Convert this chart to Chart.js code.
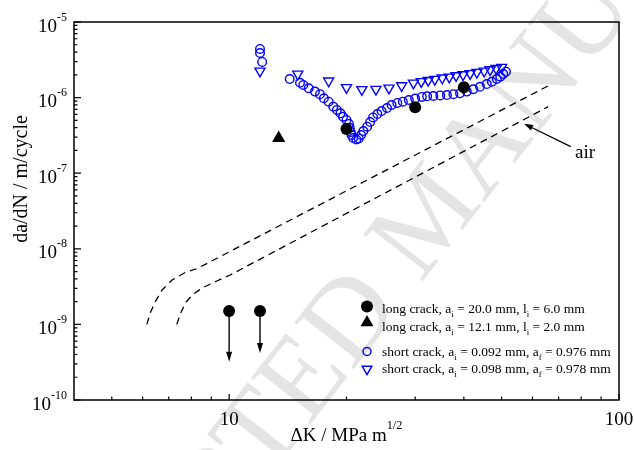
<!DOCTYPE html>
<html>
<head>
<meta charset="utf-8">
<script src="https://cdn.jsdelivr.net/npm/chart.js@4.4.1/dist/chart.umd.min.js"></script>
<style>
  html, body { margin: 0; padding: 0; background: #fff; }
  #wrap { width: 634px; height: 450px; position: relative; }
</style>
</head>
<body>
<div id="wrap"><canvas id="fcgChart"></canvas></div>
<script>
// long crack, ai = 20.0 mm (last two points are run-outs)
const longA_dK   = [20.0, 30.0, 40.0, 10.0, 12.0];
const longA_dadN = [3.85e-7, 7.45e-7, 1.37e-6, 1.5e-9, 1.5e-9];
// run-out arrows: index into longA and the rate the arrow points down to
const runoutIdx = [3, 4];
const runoutTo  = [3.2e-10, 4.2e-10];

// long crack, ai = 12.1 mm
const longB_dK   = [13.4];
const longB_dadN = [2.9e-7];

// short crack, ai = 0.092 mm
const shortA_dK = [12.0, 12.0, 12.15, 14.3, 15.2, 15.5, 16.0, 16.6, 17.1, 17.5, 18.0, 18.5, 18.9,
  19.3, 19.6, 20.0, 20.3, 20.4, 20.5, 20.6, 20.8, 21.2, 21.5, 21.8, 22.1, 22.6, 23.0, 23.4, 24.0,
  24.6, 25.4, 26.1, 27.0, 27.9, 28.9, 30.0, 31.2, 32.2, 33.4, 34.8, 36.2, 37.6, 39.1, 40.7, 42.3,
  44.0, 45.8, 47.2, 48.6, 49.6, 50.5, 51.3];
const shortA_dadN = [4.40e-6, 3.89e-6, 2.96e-6, 1.76e-6, 1.57e-6, 1.47e-6, 1.33e-6, 1.20e-6, 1.11e-6,
  9.8e-7, 8.83e-7, 7.59e-7, 6.86e-7, 6.20e-7, 5.58e-7, 5.06e-7, 4.48e-7, 3.96e-7, 3.51e-7, 3.20e-7,
  2.92e-7, 2.79e-7, 2.88e-7, 3.20e-7, 3.61e-7, 4.12e-7, 4.75e-7, 5.46e-7, 6.07e-7, 6.65e-7, 7.28e-7,
  7.98e-7, 8.49e-7, 8.83e-7, 9.29e-7, 9.73e-7, 1.02e-6, 1.04e-6, 1.05e-6, 1.07e-6, 1.08e-6, 1.11e-6,
  1.14e-6, 1.20e-6, 1.29e-6, 1.39e-6, 1.51e-6, 1.62e-6, 1.76e-6, 1.89e-6, 2.05e-6, 2.20e-6];

// short crack, ai = 0.098 mm
const shortB_dK = [12.0, 15.0, 18.0, 20.0, 21.9, 23.8, 25.7, 27.7, 29.7, 31.1, 32.4, 33.7, 35.2,
  36.7, 38.2, 39.8, 41.5, 43.2, 45.1, 46.7, 48.4, 50.0];
const shortB_dadN = [2.25e-6, 2.05e-6, 1.66e-6, 1.36e-6, 1.28e-6, 1.29e-6, 1.34e-6, 1.44e-6, 1.56e-6,
  1.63e-6, 1.69e-6, 1.75e-6, 1.82e-6, 1.87e-6, 1.95e-6, 2.01e-6, 2.08e-6, 2.16e-6, 2.25e-6, 2.34e-6,
  2.43e-6, 2.52e-6];

// air reference curves
const air1_dK   = [6.15, 6.29, 6.46, 6.73, 7.14, 7.71, 8.28, 66.5];
const air1_dadN = [1.0e-9, 1.46e-9, 1.98e-9, 2.85e-9, 3.86e-9, 4.86e-9, 5.48e-9, 1.47e-6];
const air2_dK   = [7.34, 7.53, 7.76, 8.09, 8.58, 9.30, 10.06, 65.8];
const air2_dadN = [1.0e-9, 1.46e-9, 1.98e-9, 2.52e-9, 3.08e-9, 3.75e-9, 4.50e-9, 7.58e-7];

// axis ticks
const xMajor = [10, 100];
const xMinor = [5, 6, 7, 8, 9, 20, 30, 40, 50, 60, 70, 80, 90];
const yExponents = [-10, -9, -8, -7, -6, -5];

// labels, as [text, 'sub' | 'sup' | ''] runs
const legendLabels = [
  [['long crack, a', ''], ['i', 'sub'], [' = 20.0 mm, l', ''], ['i', 'sub'], [' = 6.0 mm', '']],
  [['long crack, a', ''], ['i', 'sub'], [' = 12.1 mm, l', ''], ['i', 'sub'], [' = 2.0 mm', '']],
  [['short crack, a', ''], ['i', 'sub'], [' = 0.092 mm, a', ''], ['f', 'sub'], [' = 0.976 mm', '']],
  [['short crack, a', ''], ['i', 'sub'], [' = 0.098 mm, a', ''], ['f', 'sub'], [' = 0.978 mm', '']]
];
const xTitle = [['\u0394K / MPa m', ''], ['1/2', 'sup']];
const yTitle = 'da/dN / m/cycle';
const airText = 'air';
// annotation for the air curves (data units): arrow tip, arrow tail, text
const airArrow = [[57.1, 4.5e-7], [75.2, 2.25e-7]];
const airTextAt = [77.1, 1.9e-7];

const serif = '"Liberation Serif", "Times New Roman", serif';
const BLUE = '#0000ff';

function toPts(xs, ys) {
  return xs.map((x, i) => ({ x: x, y: ys[i] }));
}

// draws mixed normal/sub/sup text starting at x (baseline y), returns width
function richText(ctx, runs, x, y, size, opts) {
  opts = opts || {};
  const small = size * 0.65;
  const supRaise = opts.supRaise || size * 0.45;
  const subDrop = opts.subDrop || size * 0.28;
  let w = 0;
  runs.forEach(r => {
    ctx.font = (r[1] ? small : size) + 'px ' + serif;
    w += ctx.measureText(r[0]).width;
  });
  let cx = x;
  if (opts.align === 'center') cx = x - w / 2;
  if (opts.align === 'right') cx = x - w;
  ctx.textAlign = 'left';
  ctx.textBaseline = 'alphabetic';
  runs.forEach(r => {
    ctx.font = (r[1] ? small : size) + 'px ' + serif;
    let dy = 0;
    if (r[1] === 'sub') dy = subDrop;
    if (r[1] === 'sup') dy = -supRaise;
    ctx.fillText(r[0], cx, y + dy);
    cx += ctx.measureText(r[0]).width;
  });
  return w;
}

function drawMarker(ctx, style, x, y, r, filled, color) {
  ctx.save();
  ctx.lineWidth = 1.5;
  ctx.strokeStyle = color;
  ctx.fillStyle = color;
  ctx.beginPath();
  if (style === 'circle') {
    ctx.arc(x, y, r, 0, Math.PI * 2);
  } else {
    const dir = style === 'triangleDown' ? -1 : 1;
    for (let k = 0; k < 3; k++) {
      const ang = k * 2 * Math.PI / 3;
      ctx.lineTo(x + Math.sin(ang) * r, y - dir * Math.cos(ang) * r);
    }
    ctx.closePath();
  }
  if (filled) ctx.fill(); else ctx.stroke();
  ctx.restore();
}

function arrow(ctx, x0, y0, x1, y1, head, halfW) {
  const ang = Math.atan2(y1 - y0, x1 - x0);
  const bx = x1 - Math.cos(ang) * head, by = y1 - Math.sin(ang) * head;
  ctx.beginPath();
  ctx.moveTo(x0, y0);
  ctx.lineTo(bx, by);
  ctx.stroke();
  ctx.beginPath();
  ctx.moveTo(x1, y1);
  ctx.lineTo(bx + Math.sin(ang) * halfW, by - Math.cos(ang) * halfW);
  ctx.lineTo(bx - Math.sin(ang) * halfW, by + Math.cos(ang) * halfW);
  ctx.closePath();
  ctx.fill();
}

const frameAndText = {
  id: 'frameAndText',
  beforeDraw(chart) {
    const { ctx } = chart;
    ctx.save();
    ctx.fillStyle = '#fff';
    ctx.fillRect(0, 0, chart.width, chart.height);
    // faint diagonal stamp across the page
    ctx.font = '115px ' + serif;
    ctx.fillStyle = '#e4e4e4';
    ctx.translate(422, 220);
    ctx.rotate(-52 * Math.PI / 180);
    const lead = ctx.measureText('ACCEPTED ').width + ctx.measureText('M').width / 2;
    ctx.textAlign = 'left';
    ctx.textBaseline = 'alphabetic';
    ctx.fillText('ACCEPTED MANUSCRIPT', -lead, 115 * 0.33);
    ctx.restore();
  },
  afterDatasetsDraw(chart) {
    const { ctx, chartArea: a } = chart;
    const xs = chart.scales.x, ys = chart.scales.y;
    ctx.save();
    ctx.strokeStyle = '#000';
    ctx.fillStyle = '#000';

    // frame
    ctx.lineWidth = 1.5;
    ctx.strokeRect(a.left, a.top, a.right - a.left, a.bottom - a.top);

    // inward ticks, bottom and left only
    ctx.lineWidth = 1.2;
    ctx.beginPath();
    xMajor.forEach(v => {
      const px = xs.getPixelForValue(v);
      ctx.moveTo(px, a.bottom); ctx.lineTo(px, a.bottom - 6);
    });
    xMinor.forEach(v => {
      const px = xs.getPixelForValue(v);
      ctx.moveTo(px, a.bottom); ctx.lineTo(px, a.bottom - 3.5);
    });
    yExponents.forEach((e, i) => {
      const py = ys.getPixelForValue(Math.pow(10, e));
      ctx.moveTo(a.left, py); ctx.lineTo(a.left + 7, py);
      if (i < yExponents.length - 1) {
        for (let m = 2; m <= 9; m++) {
          const pm = ys.getPixelForValue(m * Math.pow(10, e));
          ctx.moveTo(a.left, pm); ctx.lineTo(a.left + 3.5, pm);
        }
      }
    });
    ctx.stroke();

    // y tick labels 10^n
    yExponents.forEach(e => {
      const py = ys.getPixelForValue(Math.pow(10, e));
      ctx.font = '12px ' + serif;
      const supW = ctx.measureText(String(e)).width;
      const right = a.left - 7;
      ctx.textAlign = 'right';
      ctx.textBaseline = 'alphabetic';
      ctx.fillText(String(e), right, py - 1.5);
      ctx.font = '19px ' + serif;
      ctx.fillText('10', right - supW, py + 9.5);
    });

    // x tick labels
    ctx.font = '19px ' + serif;
    ctx.textAlign = 'center';
    xMajor.forEach(v => {
      ctx.fillText(String(v), xs.getPixelForValue(v), a.bottom + 25);
    });

    // axis titles
    richText(ctx, xTitle, (a.left + a.right) / 2, a.bottom + 41, 19, { align: 'center', supRaise: 12 });
    ctx.save();
    ctx.translate(27, 179);
    ctx.rotate(-Math.PI / 2);
    ctx.font = '20px ' + serif;
    ctx.textAlign = 'center';
    ctx.fillText(yTitle, 0, 0);
    ctx.restore();

    // run-out arrows
    ctx.lineWidth = 1.4;
    runoutIdx.forEach((idx, i) => {
      const px = xs.getPixelForValue(longA_dK[idx]);
      const y0 = ys.getPixelForValue(longA_dadN[idx]);
      const y1 = ys.getPixelForValue(runoutTo[i]);
      arrow(ctx, px, y0, px, y1, 10, 3);
    });

    // air annotation
    ctx.lineWidth = 1.3;
    arrow(ctx,
      xs.getPixelForValue(airArrow[1][0]), ys.getPixelForValue(airArrow[1][1]),
      xs.getPixelForValue(airArrow[0][0]), ys.getPixelForValue(airArrow[0][1]), 9, 3);
    ctx.font = '19px ' + serif;
    ctx.textAlign = 'left';
    ctx.fillText(airText, xs.getPixelForValue(airTextAt[0]), ys.getPixelForValue(airTextAt[1]) + 6);

    // legend
    const markers = [
      ['circle', 6, true, '#000', 306.5],
      ['triangleUp', 7.5, true, '#000', 322.5],
      ['circle', 4, false, BLUE, 351.5],
      ['triangleDown', 5.5, false, BLUE, 369]
    ];
    const textBase = [313, 331, 356, 373];
    legendLabels.forEach((lab, i) => {
      const m = markers[i];
      drawMarker(ctx, m[0], a.left + 293, m[4], m[1], m[2], m[3]);
      ctx.fillStyle = '#000';
      richText(ctx, lab, a.left + 308, textBase[i], 13.5, { subDrop: 3.5 });
    });
    ctx.restore();
  }
};

new Chart(document.getElementById('fcgChart'), {
  type: 'scatter',
  data: {
    datasets: [
      {
        label: 'long crack, ai = 20.0 mm',
        data: toPts(longA_dK, longA_dadN),
        pointStyle: 'circle', pointRadius: 6,
        backgroundColor: '#000', borderColor: '#000', borderWidth: 0
      },
      {
        label: 'long crack, ai = 12.1 mm',
        data: toPts(longB_dK, longB_dadN),
        pointStyle: 'triangle', pointRadius: 7.7,
        backgroundColor: '#000', borderColor: '#000', borderWidth: 0
      },
      {
        label: 'short crack, ai = 0.092 mm',
        data: toPts(shortA_dK, shortA_dadN),
        pointStyle: 'circle', pointRadius: 4.3,
        backgroundColor: 'rgba(0,0,0,0)', borderColor: BLUE, borderWidth: 1.4
      },
      {
        label: 'short crack, ai = 0.098 mm',
        data: toPts(shortB_dK, shortB_dadN),
        pointStyle: 'triangle', pointRotation: 180, pointRadius: 5.8,
        backgroundColor: 'rgba(0,0,0,0)', borderColor: BLUE, borderWidth: 1.4
      },
      {
        label: 'air',
        data: toPts(air1_dK, air1_dadN),
        showLine: true, pointRadius: 0, borderColor: '#000', borderWidth: 1.3,
        borderDash: [7, 5], tension: 0
      },
      {
        label: 'air ',
        data: toPts(air2_dK, air2_dadN),
        showLine: true, pointRadius: 0, borderColor: '#000', borderWidth: 1.3,
        borderDash: [7, 5], tension: 0
      }
    ]
  },
  options: {
    responsive: true,
    maintainAspectRatio: false,
    animation: false,
    events: [],
    layout: { padding: { left: 74, top: 22, right: 15, bottom: 50 } },
    scales: {
      x: { type: 'logarithmic', min: 4, max: 100, display: false },
      y: { type: 'logarithmic', min: 1e-10, max: 1e-5, display: false }
    },
    plugins: {
      legend: { display: false },
      tooltip: { enabled: false }
    }
  },
  plugins: [frameAndText]
});
</script>
</body>
</html>
